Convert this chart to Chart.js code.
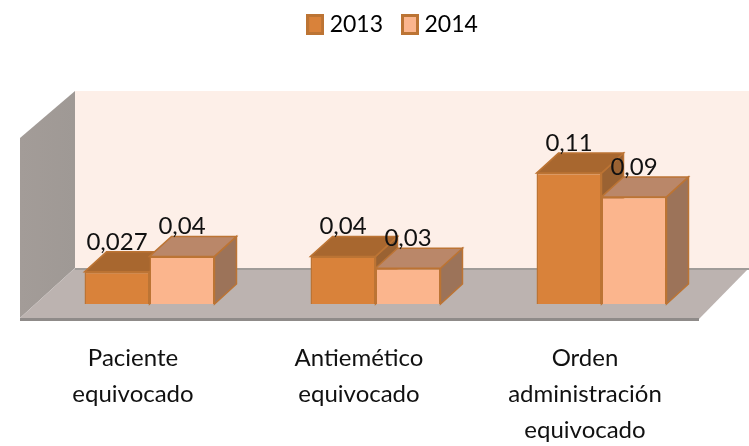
<!DOCTYPE html>
<html>
<head>
<meta charset="utf-8">
<style>
  html, body { margin: 0; padding: 0; background: #fff; }
  canvas { display: block; }
</style>
<script src="https://cdn.jsdelivr.net/npm/chart.js@4.4.1/dist/chart.umd.min.js"></script>
</head>
<body>
<canvas id="chart" width="749" height="446"></canvas>
<script>
const categories = [
  ['Paciente', 'equivocado'],
  ['Antiemético', 'equivocado'],
  ['Orden', 'administración', 'equivocado']
];
const values2013 = [0.027, 0.04, 0.11];
const values2014 = [0.04, 0.03, 0.09];

const COLORS_2013 = { front: '#D9823A', top: '#A8672F', side: '#9A6232' };
const COLORS_2014 = { front: '#FBB58D', top: '#BA8769', side: '#9C7359' };
const BORDER = '#BC7434';
const FONT = 'Lato, "Noto Sans", sans-serif';

// bar depth in px
const DX = 22;
const DY = 20;

function poly(ctx, pts, fill, stroke) {
  ctx.beginPath();
  pts.forEach((p, i) => i ? ctx.lineTo(p[0], p[1]) : ctx.moveTo(p[0], p[1]));
  ctx.closePath();
  ctx.fillStyle = fill;
  ctx.fill();
  if (stroke) {
    ctx.strokeStyle = stroke;
    ctx.lineWidth = 1.5;
    ctx.stroke();
  }
}

// legend swatch, taller than wide
function swatch(fill) {
  const c = document.createElement('canvas');
  c.width = 18;
  c.height = 21;
  const x = c.getContext('2d');
  x.fillStyle = BORDER;
  x.fillRect(0, 0, 18, 21);
  x.fillStyle = fill;
  x.fillRect(3, 3, 12, 15);
  return c;
}

// room under the legend, and legend sits right of centre
const legendGap = {
  id: 'legendGap',
  beforeInit(chart) {
    const legend = chart.legend;
    const fit = legend.fit;
    const draw = legend.draw;
    legend.fit = function () {
      fit.call(this);
      this.height = 125.5;
    };
    legend.draw = function () {
      this.ctx.save();
      this.ctx.translate(19.5, -11);
      draw.call(this);
      this.ctx.restore();
    };
  }
};

// walls and floor behind the bars
const room = {
  id: 'room',
  beforeDatasetsDraw(chart) {
    const { ctx, chartArea: a } = chart;
    const fl = a.left - 16.5;
    const fr = a.right - 15.5;
    const fy = a.bottom + 14;
    const bl = fl + 55;
    const by = a.bottom - 36;
    const topY = by - 177;

    ctx.save();
    poly(ctx, [[bl, topY], [749, topY], [749, by], [bl, by]], '#FDEFE8');
    const wall = ctx.createLinearGradient(fl, 0, bl, 0);
    wall.addColorStop(0, '#A39C98');
    wall.addColorStop(1, '#9F9995');
    poly(ctx, [[fl, topY + 47], [bl, topY], [bl, by], [fl, fy]], wall);
    poly(ctx, [[fl, fy], [bl, by], [749, by], [fr, fy + 1]], '#BCB3B0');
    ctx.fillStyle = '#A09C99';
    ctx.fillRect(bl, by, 749 - bl, 2);
    ctx.fillStyle = '#8F8B89';
    ctx.fillRect(fl, fy, fr - fl, 3);
    ctx.restore();

    // depth faces, 2013 first so 2014 sits over it
    [COLORS_2013, COLORS_2014].forEach((c, d) => {
      chart.getDatasetMeta(d).data.forEach(bar => {
        const l = bar.x - bar.width / 2;
        const r = bar.x + bar.width / 2;
        poly(ctx, [[r, bar.y], [r + DX, bar.y - DY], [r + DX, bar.base - DY], [r, bar.base]], c.side, BORDER);
        poly(ctx, [[l, bar.y], [l + DX, bar.y - DY], [r + DX, bar.y - DY], [r, bar.y]], c.top, BORDER);
      });
    });
  }
};

const valueLabels = {
  id: 'valueLabels',
  afterDatasetsDraw(chart) {
    const { ctx } = chart;
    ctx.save();
    ctx.font = '24px ' + FONT;
    ctx.fillStyle = '#111';
    ctx.textAlign = 'center';
    ctx.textBaseline = 'alphabetic';
    chart.data.datasets.forEach((ds, d) => {
      chart.getDatasetMeta(d).data.forEach((bar, i) => {
        ctx.fillText(String(ds.data[i]).replace('.', ','), bar.x, bar.y - 22);
      });
    });
    ctx.restore();
  }
};

new Chart(document.getElementById('chart'), {
  type: 'bar',
  data: {
    labels: categories,
    datasets: [
      { label: '2013', data: values2013, backgroundColor: COLORS_2013.front, borderColor: BORDER, borderWidth: 1.5 },
      { label: '2014', data: values2014, backgroundColor: COLORS_2014.front, borderColor: BORDER, borderWidth: 1.5 }
    ]
  },
  options: {
    responsive: false,
    animation: false,
    layout: { padding: { left: 36.5, right: 34.5, top: 0, bottom: 0 } },
    categoryPercentage: 0.575,
    barPercentage: 1,
    plugins: {
      tooltip: { enabled: false },
      legend: {
        display: true,
        position: 'top',
        labels: {
          usePointStyle: true,
          pointStyleWidth: 6,
          padding: 24,
          color: '#111',
          font: { family: FONT, size: 23 },
          generateLabels: chart => chart.data.datasets.map((ds, i) => ({
            text: ds.label,
            fillStyle: ds.backgroundColor,
            strokeStyle: BORDER,
            pointStyle: swatch(ds.backgroundColor),
            datasetIndex: i
          }))
        }
      }
    },
    scales: {
      x: {
        grid: { display: false },
        border: { display: false },
        afterFit: s => { s.height = 142; },
        ticks: {
          autoSkip: false,
          maxRotation: 0,
          labelOffset: -16.5,
          padding: 28,
          color: '#111',
          font: { family: FONT, size: 24, lineHeight: '36px' }
        }
      },
      y: { display: false, min: 0, max: 0.15 }
    }
  },
  plugins: [legendGap, room, valueLabels]
});
</script>
</body>
</html>
